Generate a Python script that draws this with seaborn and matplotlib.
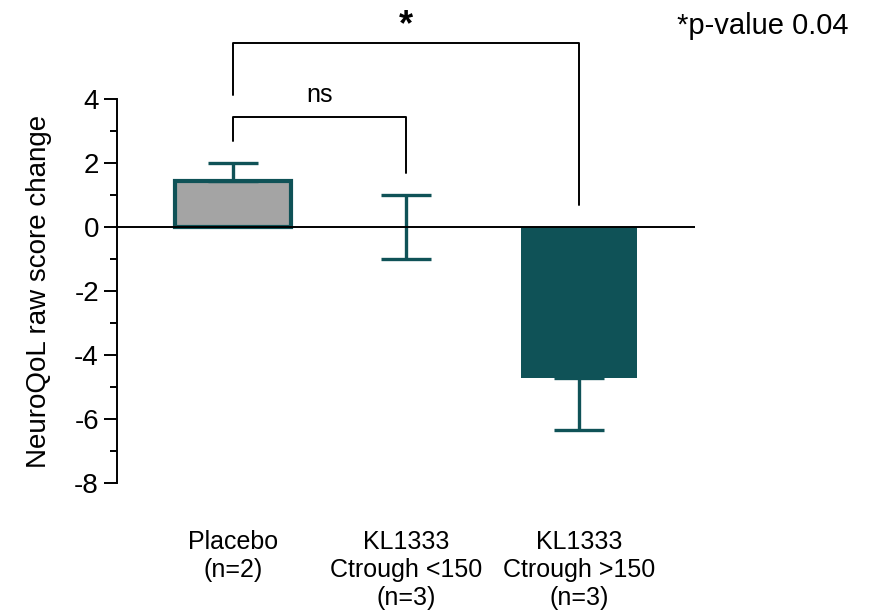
import numpy as np
import pandas as pd
import matplotlib
matplotlib.use("Agg")
import matplotlib.pyplot as plt
import seaborn as sns

# ---------- Data ----------
groups = ["Placebo\n(n=2)", "KL1333\nCtrough <150\n(n=3)", "KL1333\nCtrough >150\n(n=3)"]
means = [1.45, 0.0, -4.7]
err_lower = [0.0, 1.0, 1.65]
err_upper = [0.55, 1.0, 0.0]

teal = "#0f5257"
gray = "#a4a4a4"

sns.set_theme(style="ticks")
plt.rcParams["font.family"] = ["Liberation Sans", "DejaVu Sans"]
plt.rcParams["axes.unicode_minus"] = False
plt.rcParams["text.color"] = "black"
plt.rcParams["axes.labelcolor"] = "black"
plt.rcParams["xtick.color"] = "black"
plt.rcParams["ytick.color"] = "black"

df = pd.DataFrame({"group": groups, "value": means})

fig = plt.figure(figsize=(8.76, 6.13), dpi=100)
ax = fig.add_axes([0.1336, 0.212, 0.6598, 0.759])

sns.barplot(data=df, x="group", y="value", hue="group", saturation=1,
            palette=[gray, teal, teal], width=0.67, legend=False, ax=ax)
# placebo bar has teal outline
ax.patches[0].set_edgecolor(teal)
ax.patches[0].set_linewidth(3)
for p in ax.patches[1:]:
    p.set_linewidth(0)

ax.errorbar(range(len(groups)), means, yerr=[err_lower, err_upper],
            fmt="none", ecolor=teal, elinewidth=2.4, capsize=18, capthick=2.4,
            zorder=1)

ax.axhline(0, color="black", lw=1.4, zorder=3)

ax.set_xlim(-0.67, 2.67)
ax.set_ylim(-8, 6.55)
ax.spines["left"].set_bounds(-8, 4)
for s in ["top", "right", "bottom"]:
    ax.spines[s].set_visible(False)
ax.spines["left"].set_linewidth(1.4)
ax.spines["left"].set_color("black")

ax.set_yticks(np.arange(-8, 5, 2))
ax.set_yticks(np.arange(-7, 4, 2), minor=True)
ax.tick_params(axis="y", which="major", length=9.5, width=1.4, labelsize=20)
ax.tick_params(axis="y", which="minor", length=5, width=1.4)
ax.tick_params(axis="x", length=0, labelsize=18, pad=34)
for lbl in ax.get_xticklabels():
    lbl.set_linespacing(1.2)
    lbl.set_verticalalignment("top")

ax.set_xlabel("")
ax.set_ylabel("NeuroQoL raw score change", fontsize=20)
ax.yaxis.set_label_coords(-0.112, 0.412)

# significance brackets
ax.plot([0, 0, 1, 1], [2.7, 3.45, 3.45, 1.7], color="black", lw=1.4, clip_on=False)
ax.text(0.5, 4.15, "ns", ha="center", va="center", fontsize=18)
ax.plot([0, 0, 2, 2], [4.15, 5.75, 5.75, 0.7], color="black", lw=1.4, clip_on=False)
ax.text(1, 6.3, "*", ha="center", va="center", fontsize=26, fontweight="bold")

fig.text(0.969, 0.958, "*p-value 0.04", ha="right", va="center", fontsize=21)

fig.savefig("out.png", dpi=100)
